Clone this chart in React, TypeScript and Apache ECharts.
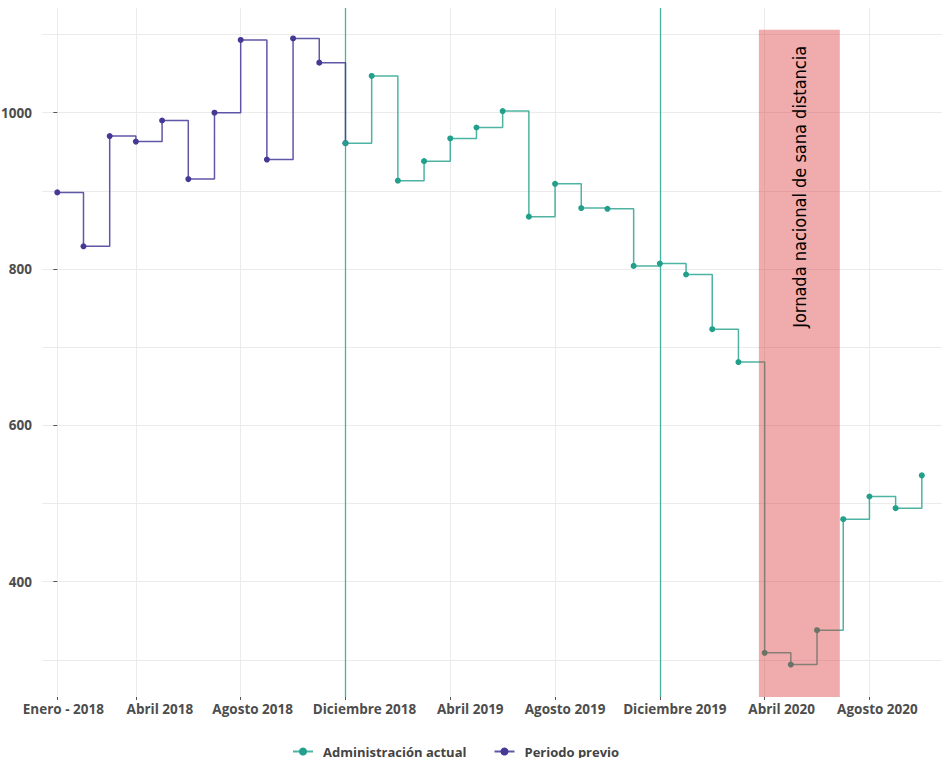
import React, { useEffect, useRef } from "react";
import * as echarts from "echarts";

// ---- data ----
const tickIdx = [0, 3, 7, 11, 15, 19, 23, 27, 31];
const tickLabels = [
  "Enero - 2018",
  "Abril 2018",
  "Agosto 2018",
  "Diciembre 2018",
  "Abril 2019",
  "Agosto 2019",
  "Diciembre 2019",
  "Abril 2020",
  "Agosto 2020",
];
const previoStart = 0;
const previoValues = [898, 829, 970, 963, 990, 915, 1000, 1093, 940, 1095, 1064, 961];
const actualStart = 11;
const actualValues = [
  961, 1047, 913, 938, 967, 981, 1002, 867, 909, 878, 877, 804, 807, 793, 723, 681,
  309, 294, 338, 480, 509, 494, 536,
];
const yLabelValues = [400, 600, 800, 1000];
const yGridValues = [300, 400, 500, 600, 700, 800, 900, 1000, 1100];
const cambioIdx = [11, 23];
const jornadaRange = [26.78, 29.87];
const jornadaTop = 1106;
const jornadaText = "Jornada nacional de sana distancia";
const xMin = -0.584;
const xMax = 33.77;
const yMin = 252.5;
const yMax = 1133.9;

// ---- styles ----
// horizontal nudge (px) of each x tick label's centre to the right of its tick
const labelNudge = [6, 24, 12, 19, 20, 10, 15, 17, 8];
const TEAL = "#22a08b";
const PURPLE = "#443a96";
const FONT = "'Open Sans', 'DejaVu Sans', sans-serif";
const NARROW = "'Liberation Sans Narrow', 'DejaVu Sans Condensed', sans-serif";

export default function App() {
  const ref = useRef<HTMLDivElement>(null);

  useEffect(() => {
    document.body.style.margin = "0";
    if (!ref.current) return;
    const chart = echarts.init(ref.current, undefined, { renderer: "svg" });

    const previo = previoValues.map((v, i) => [previoStart + i, v]);
    const actual = actualValues.map((v, i) => [actualStart + i, v]);

    const labelFont = {
      fontFamily: FONT,
      fontWeight: "bold",
      fontSize: 13.5,
      color: "#4d4d4d",
    };
    const rich: any = {};
    labelNudge.forEach((n, k) => {
      rich["n" + k] = { ...labelFont, padding: [0, 0, 0, 2 * n] };
    });

    const vlineStyle = { color: "#3aab97", width: 1.3, type: "solid", opacity: 0.9 };

    const option: any = {
      animation: false,
      backgroundColor: "#ffffff",
      grid: {
        left: 42,
        right: 0,
        top: 8,
        bottom: 61,
        containLabel: false,
        outerBoundsMode: "none",
      },
      legend: {
        data: ["Administración actual", "Periodo previo"],
        left: 287,
        top: 740,
        itemWidth: 20,
        itemHeight: 10,
        itemGap: 27,
        textStyle: {
          fontFamily: FONT,
          fontWeight: "bold",
          fontSize: 13,
          color: "#444444",
          padding: [0, 0, 0, 5],
        },
      },
      xAxis: {
        type: "value",
        min: xMin,
        max: xMax,
        axisLine: { show: false },
        splitLine: { show: false },
        axisTick: { show: true, customValues: tickIdx, length: 3, lineStyle: { color: "#555555" } },
        axisLabel: {
          customValues: tickIdx,
          formatter: (v: number) => {
            const k = tickIdx.indexOf(Math.round(v));
            return k >= 0 ? "{n" + k + "|" + tickLabels[k] + "}" : "";
          },
          margin: 5,
          rich,
          ...labelFont,
        },
      },
      yAxis: {
        type: "value",
        min: yMin,
        max: yMax,
        axisLine: { show: false },
        splitLine: { show: false },
        axisTick: { show: true, customValues: yLabelValues, length: 4, lineStyle: { color: "#555555" } },
        axisLabel: {
          customValues: yLabelValues,
          formatter: (v: number) => String(Math.round(v)),
          margin: 10,
          ...labelFont,
        },
      },
      series: [
        {
          name: "grid",
          type: "line",
          data: [],
          silent: true,
          markLine: {
            z: 0,
            silent: true,
            symbol: ["none", "none"],
            label: { show: false },
            lineStyle: { color: "#ebebeb", width: 1, type: "solid" },
            data: [
              ...yGridValues.map((v) => ({ yAxis: v })),
              ...tickIdx.map((i) => ({ xAxis: i })),
            ],
          },
        },
        {
          name: "cambio",
          type: "line",
          data: [],
          silent: true,
          markLine: {
            z: 1,
            silent: true,
            symbol: ["none", "none"],
            label: { show: false },
            lineStyle: vlineStyle,
            data: cambioIdx.map((i) => ({ xAxis: i, lineStyle: vlineStyle })),
          },
        },
        {
          name: "Periodo previo",
          type: "line",
          step: "end",
          z: 2,
          data: previo,
          symbol: "circle",
          symbolSize: 6,
          itemStyle: { color: PURPLE },
          lineStyle: { color: PURPLE, width: 1.5, opacity: 0.85 },
        },
        {
          name: "Administración actual",
          type: "line",
          step: "end",
          z: 3,
          data: actual,
          symbol: "circle",
          symbolSize: 6,
          itemStyle: { color: TEAL },
          lineStyle: { color: TEAL, width: 1.5, opacity: 0.8 },
        },
        {
          name: "jornada",
          type: "line",
          data: [],
          silent: true,
          markArea: {
            z: 10,
            silent: true,
            itemStyle: { color: "rgba(218, 48, 50, 0.4)" },
            label: {
              show: true,
              position: "insideTop",
              distance: 16,
              rotate: 90,
              align: "right",
              verticalAlign: "middle",
              padding: [0, 0, 10, 0],
              fontFamily: NARROW,
              fontSize: 18,
              color: "#000000",
              formatter: jornadaText,
            },
            data: [
              [
                { xAxis: jornadaRange[0], yAxis: jornadaTop },
                { xAxis: jornadaRange[1], yAxis: yMin },
              ],
            ],
          },
        },
      ],
    };

    chart.setOption(option);
    return () => chart.dispose();
  }, []);

  return <div ref={ref} style={{ width: 942, height: 758 }} />;
}
